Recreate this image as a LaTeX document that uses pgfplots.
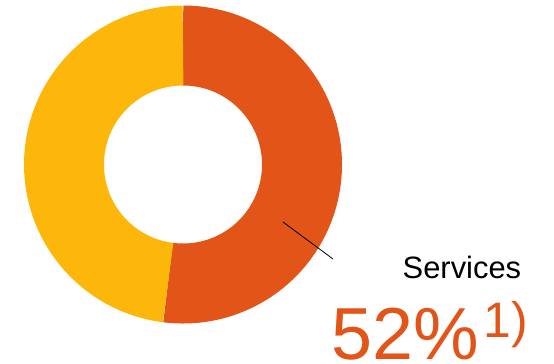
\documentclass[border=0pt]{standalone}
\usepackage{pgfplots}
\pgfplotsset{compat=1.18}
\usepackage{pgfplotstable}
\usepackage{fontspec}
\setmainfont{Liberation Sans}
\definecolor{cOrange}{RGB}{226,84,23}
\definecolor{cYellow}{RGB}{253,183,10}
\pgfplotstableread{
label value
Services 52
Other 48
}\shares
\begin{document}%
\pgfplotstablegetelem{0}{value}\of\shares\let\vServ\pgfplotsretval%
\pgfplotstablegetelem{1}{value}\of\shares\let\vOther\pgfplotsretval%
\pgfmathsetmacro{\aEnd}{90-3.6*\vServ}%
\pgfmathsetmacro{\bEnd}{90+3.6*\vOther}%
\begin{tikzpicture}
\begin{axis}[x=1bp,y=1bp, xmin=-183, xmax=371, ymin=-198.5, ymax=164.5,
  hide axis, clip=false]
\addplot[draw=cOrange, line width=80bp, line cap=butt, domain=\aEnd:90, samples=400] ({119*cos(x)},{119*sin(x)});
\addplot[draw=cYellow, line width=80bp, line cap=butt, domain=90:\bEnd, samples=400] ({119*cos(x)},{119*sin(x)});
\addplot[black, line width=0.8bp] coordinates {(100,-57.5) (150,-94.5)};
\node[anchor=base west, inner sep=0pt, font=\fontsize{31}{31}\selectfont] at (axis cs:219.5,-113.5) {Services};
\node[anchor=base west, inner sep=0pt, text=cOrange, font=\fontsize{74}{74}\selectfont] at (axis cs:148.5,-194.5) {52\%};
\node[anchor=base west, inner sep=0pt, text=cOrange, font=\fontsize{50}{50}\selectfont] at (axis cs:300.5,-173.2) {1)};
\coordinate (bbSW) at (axis cs:-183,-198.5);
\coordinate (bbNE) at (axis cs:371,164.5);
\end{axis}
\pgfresetboundingbox
\useasboundingbox (bbSW) rectangle (bbNE);
\end{tikzpicture}%
\end{document}
